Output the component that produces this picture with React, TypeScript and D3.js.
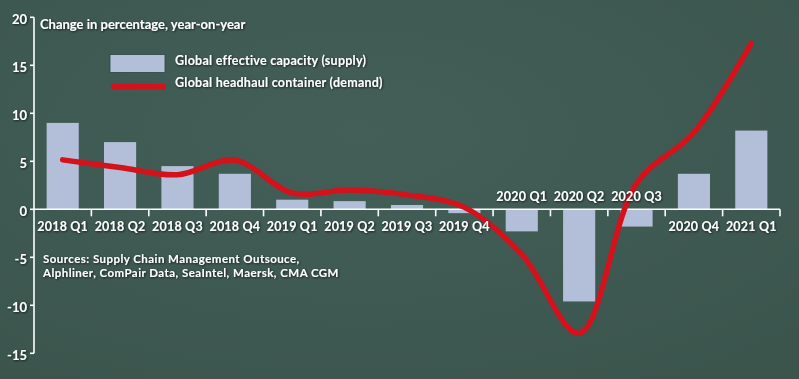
import React from "react";
import * as d3 from "d3";

const categories = [
  "2018 Q1", "2018 Q2", "2018 Q3", "2018 Q4",
  "2019 Q1", "2019 Q2", "2019 Q3", "2019 Q4",
  "2020 Q1", "2020 Q2", "2020 Q3", "2020 Q4", "2021 Q1",
];
const supply = [9.0, 7.0, 4.5, 3.7, 1.0, 0.85, 0.45, -0.4, -2.3, -9.6, -1.8, 3.7, 8.2];
const demand = [5.15, 4.35, 3.6, 5.1, 1.7, 2.0, 1.5, 0.2, -4.7, -12.9, 2.7, 8.0, 17.3];
const yTicks = [-15, -10, -5, 0, 5, 10, 15, 20];
const title = "Change in percentage, year-on-year";
const legendLabels = ["Global effective capacity (supply)", "Global headhaul container (demand)"];
const sources = [
  "Sources: Supply Chain Management Outsouce,",
  "Alphliner, ComPair Data, SeaIntel, Maersk, CMA CGM",
];

const W = 799;
const H = 379;
const FONT = "Lato, 'Open Sans', sans-serif";
const BAR = "#b3bfd9";
const RED = "#d3121c";

export default function App() {
  const x = d3.scaleBand<string>().domain(categories).range([34, 780]).paddingInner(0.44).paddingOuter(0.22);
  const y = d3.scaleLinear().domain([-15, 20]).range([353.3, 17.3]);
  const step = x.step();
  const line = d3
    .line<number>()
    .x((_, i) => (x(categories[i]) as number) + x.bandwidth() / 2)
    .y((d) => y(d))
    .curve(d3.curveCatmullRom.alpha(0.5));
  const y0 = y(0);
  const boundaries = categories.map((_, i) => 34 + step * (i + 1));

  return (
    <svg width={W} height={H} style={{ position: "fixed", left: 0, top: 0, display: "block" }}>
      <defs>
        <filter id="sh" x="-10%" y="-30%" width="120%" height="160%">
          <feDropShadow dx="0.8" dy="0.8" stdDeviation="1.2" floodColor="#000" floodOpacity="0.75" />
        </filter>
        <radialGradient id="bg" cx="0.45" cy="0.35" r="0.8">
          <stop offset="0" stopColor="#435f58" />
          <stop offset="1" stopColor="#3b554d" />
        </radialGradient>
      </defs>
      <rect x={0} y={0} width={W} height={H} fill="url(#bg)" />

      {/* bars */}
      {supply.map((v, i) => (
        <rect
          key={categories[i]}
          x={x(categories[i])}
          y={Math.min(y(v), y0)}
          width={x.bandwidth()}
          height={Math.abs(y(v) - y0)}
          fill={BAR}
        />
      ))}

      {/* axes */}
      <g stroke="#fff" strokeWidth={1.6} fill="none">
        <line x1={34} x2={34} y1={y(20)} y2={y(-15)} />
        {yTicks.map((t) => (
          <line key={t} x1={30} x2={34} y1={y(t)} y2={y(t)} />
        ))}
        <line x1={34} x2={780} y1={y0} y2={y0} />
        {boundaries.map((b, i) => (
          <line key={i} x1={b} x2={b} y1={y0} y2={y0 + 7} />
        ))}
      </g>

      {/* demand line */}
      <path d={line(demand) || ""} fill="none" stroke={RED} strokeWidth={5.5} strokeLinecap="round" strokeLinejoin="round" />

      <g fill="#fff" fontFamily={FONT} fontWeight={700} filter="url(#sh)">
        {yTicks.map((t) => (
          <text key={t} x={27} y={y(t) + 7} fontSize={13} textAnchor="end">
            {t}
          </text>
        ))}
        {categories.map((c, i) => {
          const above = supply[i] < -1;
          return (
            <text
              key={c}
              x={(x(c) as number) + x.bandwidth() / 2}
              y={above ? y0 - 8.5 : y0 + 21.5}
              fontSize={12.5}
              letterSpacing={0.2}
              textAnchor="middle"
            >
              {c}
            </text>
          );
        })}
        <text x={40} y={28.5} fontSize={13}>
          {title}
        </text>
        <text x={175} y={64.5} fontSize={12.5} letterSpacing={0.25}>
          {legendLabels[0]}
        </text>
        <text x={175} y={87} fontSize={12.5} letterSpacing={0.25}>
          {legendLabels[1]}
        </text>
        {sources.map((s, i) => (
          <text key={i} x={43} y={263 + i * 13.5} fontSize={11.5} letterSpacing={0.45}>
            {s}
          </text>
        ))}
      </g>

      {/* legend marks */}
      <rect x={110} y={54.5} width={55} height={18} fill={BAR} stroke="#2e4440" strokeWidth={0.8} />
      <line x1={111} x2={166} y1={86.7} y2={86.7} stroke={RED} strokeWidth={5.5} />
    </svg>
  );
}
